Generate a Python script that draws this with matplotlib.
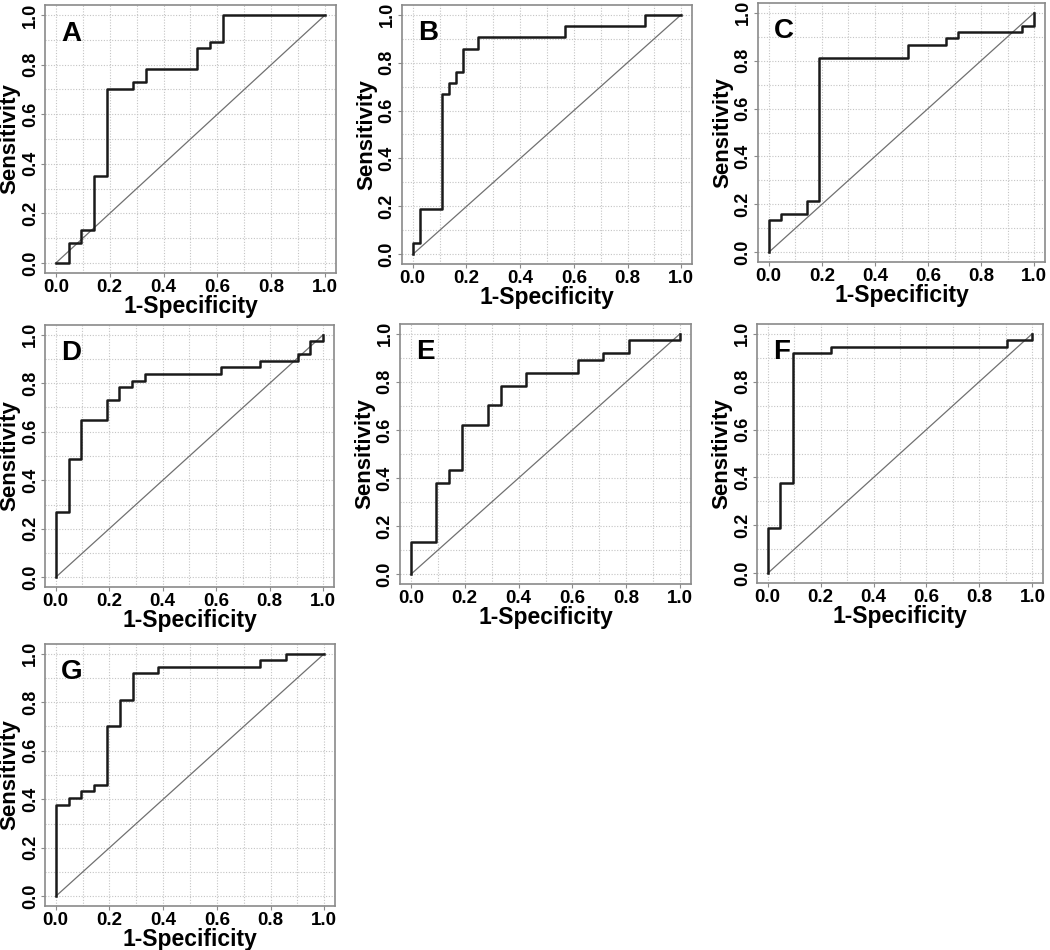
import matplotlib
matplotlib.use("Agg")
import matplotlib.pyplot as plt
import numpy as np

# ROC curve vertices (1-specificity, sensitivity), drawn as steps
A_fpr = [0, 0.048, 0.095, 0.143, 0.190, 0.286, 0.333, 0.524, 0.571, 0.619, 1.0]
A_tpr = [0, 0.081, 0.135, 0.351, 0.703, 0.730, 0.784, 0.865, 0.892, 1.0, 1.0]

B_fpr = [0, 0, 0.027, 0.108, 0.135, 0.162, 0.189, 0.243, 0.568, 0.865, 1.0]
B_tpr = [0, 0.048, 0.190, 0.667, 0.714, 0.762, 0.857, 0.905, 0.952, 1.0, 1.0]

C_fpr = [0, 0, 0.048, 0.143, 0.190, 0.524, 0.667, 0.714, 0.952, 1.0]
C_tpr = [0, 0.135, 0.162, 0.216, 0.811, 0.865, 0.892, 0.919, 0.946, 1.0]

D_fpr = [0, 0, 0.048, 0.095, 0.190, 0.238, 0.286, 0.333, 0.619, 0.762, 0.905, 0.952, 1.0]
D_tpr = [0, 0.270, 0.486, 0.649, 0.730, 0.784, 0.811, 0.838, 0.865, 0.892, 0.919, 0.973, 1.0]

E_fpr = [0, 0, 0.095, 0.143, 0.190, 0.286, 0.333, 0.429, 0.619, 0.714, 0.810, 1.0]
E_tpr = [0, 0.135, 0.378, 0.432, 0.622, 0.703, 0.784, 0.838, 0.892, 0.919, 0.973, 1.0]

F_fpr = [0, 0, 0.048, 0.095, 0.238, 0.905, 1.0]
F_tpr = [0, 0.189, 0.378, 0.919, 0.946, 0.973, 1.0]

G_fpr = [0, 0, 0.048, 0.095, 0.143, 0.190, 0.238, 0.286, 0.381, 0.762, 0.857, 1.0]
G_tpr = [0, 0.378, 0.405, 0.432, 0.459, 0.703, 0.811, 0.919, 0.946, 0.973, 1.0, 1.0]

panels = [
    ("A", A_fpr, A_tpr),
    ("B", B_fpr, B_tpr),
    ("C", C_fpr, C_tpr),
    ("D", D_fpr, D_tpr),
    ("E", E_fpr, E_tpr),
    ("F", F_fpr, F_tpr),
    ("G", G_fpr, G_tpr),
]

# axes boxes in pixels: left, right, top, bottom
boxes = [
    (45, 336, 5, 273),
    (402, 692, 5, 264),
    (758, 1045, 3, 262),
    (45, 334, 325, 587),
    (400, 691, 324, 584),
    (757, 1043, 324, 583),
    (45, 335, 644, 906),
]

W, H = 1050, 950
plt.rcParams['font.family'] = ['Liberation Sans', 'DejaVu Sans']
plt.rcParams['font.weight'] = 'bold'

fig = plt.figure(figsize=(W / 100, H / 100), dpi=100)

edge = '#8a8a8a'
ticks = [0.0, 0.2, 0.4, 0.6, 0.8, 1.0]
minor = np.arange(0, 1.01, 0.1)

for (letter, fpr, tpr), (l, r, t, b) in zip(panels, boxes):
    ax = fig.add_axes([l / W, 1 - b / H, (r - l) / W, (b - t) / H])
    ax.set_xlim(-0.04, 1.04)
    ax.set_ylim(-0.04, 1.04)
    for v in minor:
        ax.axvline(v, color='#c4c4c4', lw=0.8, ls=(0, (1, 1.5)), zorder=0)
        ax.axhline(v, color='#c4c4c4', lw=0.8, ls=(0, (1, 1.5)), zorder=0)
    ax.plot([0, 1], [0, 1], color='#707070', lw=0.9, zorder=1)
    ax.plot(fpr, tpr, drawstyle='steps-post', color='#1a1a1a', lw=1.8, zorder=2)
    ax.set_xticks(ticks)
    ax.set_yticks(ticks)
    ax.set_xticklabels(['%.1f' % v for v in ticks], fontsize=13.5, fontweight='bold')
    ax.set_yticklabels(['%.1f' % v for v in ticks], fontsize=13, fontweight='bold',
                       rotation=90, va='center')
    ax.tick_params(length=3, color=edge, pad=1.5)
    for s in ax.spines.values():
        s.set_color(edge)
        s.set_linewidth(1.2)
    ax.set_xlabel('1-Specificity', fontsize=16.5, fontweight='bold', labelpad=-1)
    ax.set_ylabel('Sensitivity', fontsize=16, fontweight='bold', labelpad=1)
    ax.text(0.02, 0.925, letter, fontsize=20, fontweight='bold', ha='left', va='center')

fig.savefig('out.png', dpi=100)
